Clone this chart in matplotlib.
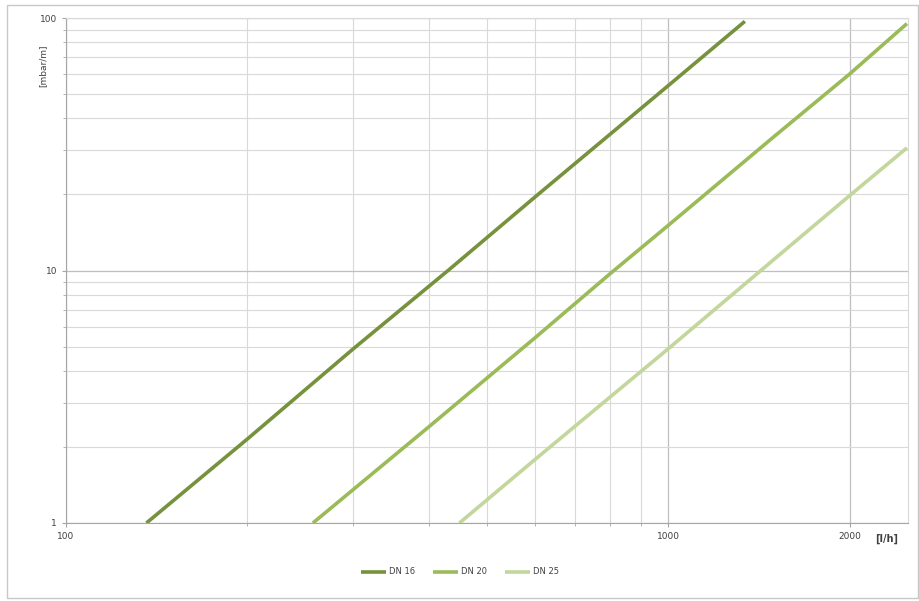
import matplotlib
matplotlib.use("Agg")
import matplotlib.pyplot as plt
from matplotlib.ticker import LogLocator, NullFormatter, FixedLocator
from matplotlib.patches import Rectangle

# Data (flow l/h -> pressure loss mbar/m)
series_names = ["DN 16", "DN 20", "DN 25"]
flow_dn16 = [136, 200, 300, 433, 600, 1000, 1340]
loss_dn16 = [1.0, 2.15, 4.9, 10.1, 19.5, 54, 97]
flow_dn20 = [257, 400, 600, 800, 1000, 1500, 2000, 2490]
loss_dn20 = [1.0, 2.4, 5.4, 9.7, 15.1, 34, 60, 95]
flow_dn25 = [450, 600, 800, 1000, 1500, 2000, 2490]
loss_dn25 = [1.0, 1.78, 3.15, 4.9, 11.1, 19.8, 30.6]
colors = ["#76923c", "#9bbb59", "#c3d69b"]

x_ticks = [100, 1000, 2000]
x_ticklabels = ["100", "1000", "2000"]
y_ticks = [1, 10, 100]
y_ticklabels = ["1", "10", "100"]

fig = plt.figure(figsize=(9.2, 6.01), dpi=100)
fig.patches.append(Rectangle((7/920, 1-598/601), 911/920, 593/601, transform=fig.transFigure,
                             fill=False, edgecolor="#c8c8c8", lw=1.0))
ax = fig.add_axes([66/920, 1-523/601, (908-66)/920, (523-18)/601])
ax.set_xscale("log")
ax.set_yscale("log")
ax.set_xlim(100, 2500)
ax.set_ylim(1, 100)

for fx, ly, c, n in zip([flow_dn16, flow_dn20, flow_dn25],
                        [loss_dn16, loss_dn20, loss_dn25], colors, series_names):
    ax.plot(fx, ly, color=c, lw=2.6, label=n, solid_capstyle="butt", zorder=3)

ax.xaxis.set_major_locator(FixedLocator(x_ticks))
ax.set_xticklabels(x_ticklabels)
ax.xaxis.set_minor_locator(LogLocator(base=10, subs=range(2, 10)))
ax.xaxis.set_minor_formatter(NullFormatter())
ax.yaxis.set_major_locator(FixedLocator(y_ticks))
ax.set_yticklabels(y_ticklabels)
ax.yaxis.set_minor_locator(LogLocator(base=10, subs=range(2, 10)))
ax.yaxis.set_minor_formatter(NullFormatter())

ax.grid(True, which="major", color="#bfbfbf", lw=0.9)
ax.grid(True, which="minor", color="#d9d9d9", lw=0.8)
ax.set_axisbelow(True)
for s in ["top", "right"]:
    ax.spines[s].set_color("#d9d9d9")
for s in ["left", "bottom"]:
    ax.spines[s].set_color("#a6a6a6")
ax.tick_params(which="both", length=3, color="#a6a6a6", labelsize=6.5, labelcolor="#404040")
ax.tick_params(which="minor", length=2)

ax.text(-0.028, 0.905, "[mbar/m]", transform=ax.transAxes, rotation=90, fontsize=6.5,
        color="#404040", ha="center", va="center")
ax.text(0.975, -0.032, "[l/h]", transform=ax.transAxes, fontsize=7, color="#404040",
        ha="center", va="center", fontweight="bold")

leg = fig.legend(loc="center", bbox_to_anchor=(460/920, 1-572/601), ncol=3, frameon=False,
                 fontsize=6, handlelength=3.0, columnspacing=2.2, handletextpad=0.3,
                 labelcolor="#404040")

fig.savefig("out.png", dpi=100)
